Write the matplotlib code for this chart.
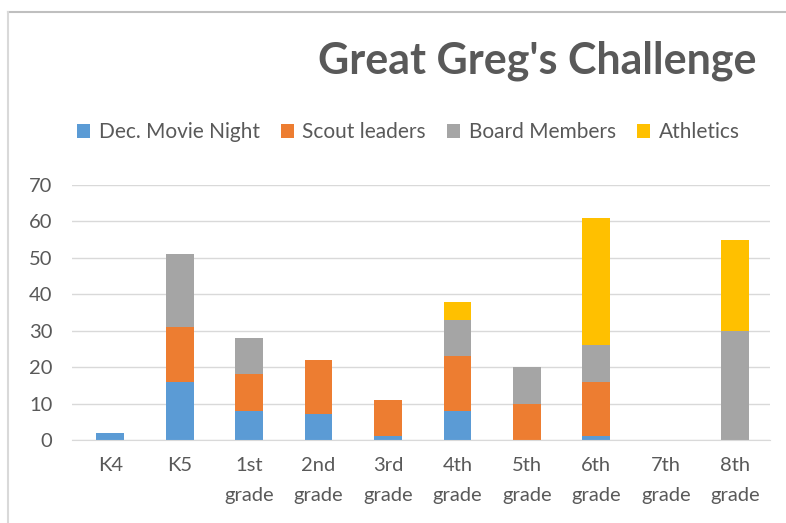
import matplotlib
matplotlib.use("Agg")
import matplotlib.pyplot as plt
from matplotlib.lines import Line2D
import numpy as np

categories = ["K4", "K5", "1st\ngrade", "2nd\ngrade", "3rd\ngrade", "4th\ngrade",
              "5th\ngrade", "6th\ngrade", "7th\ngrade", "8th\ngrade"]
movie_night = [2, 16, 8, 7, 1, 8, 0, 1, 0, 0]
scout_leaders = [0, 15, 10, 15, 10, 15, 10, 15, 0, 0]
board_members = [0, 20, 10, 0, 0, 10, 10, 10, 0, 30]
athletics = [0, 0, 0, 0, 0, 5, 0, 35, 0, 25]

series = [("Dec. Movie Night", movie_night, "#5B9BD5"),
          ("Scout leaders", scout_leaders, "#ED7D31"),
          ("Board Members", board_members, "#A5A5A5"),
          ("Athletics", athletics, "#FFC000")]

plt.rcParams['font.family'] = ['Lato', 'DejaVu Sans']
txt = "#595959"

fig = plt.figure(figsize=(7.86, 5.23), dpi=100)
ax = fig.add_axes([0.0916, 0.1587, 0.888, 0.4876])

x = np.arange(len(categories))
bottom = np.zeros(len(categories))
handles = []
for name, vals, col in series:
    v = np.array(vals, dtype=float)
    b = ax.bar(x, v, 0.4, bottom=bottom, color=col, label=name, zorder=3)
    bottom += v
    handles.append(b)

ax.set_ylim(0, 70)
ax.set_xlim(-0.55, 9.5)
ax.set_yticks(range(0, 71, 10))
ax.set_xticks(x)
ax.set_xticklabels(categories, fontsize=14.5, color=txt, linespacing=1.95)
ax.tick_params(axis='y', labelsize=14.5, colors=txt, length=0, pad=14)
ax.tick_params(axis='x', length=0, pad=12)
ax.yaxis.grid(True, color="#D9D9D9", linewidth=1, zorder=0)
for s in ["top", "right", "left"]:
    ax.spines[s].set_visible(False)
ax.spines["bottom"].set_color("#D9D9D9")
ax.spines["bottom"].set_zorder(4)

fig.text(0.683, 0.883, "Great Greg's Challenge", ha="center", va="center",
         fontsize=31, fontweight="bold", color=txt)

leg = fig.legend(handles=handles, loc="center left", bbox_to_anchor=(0.074, 0.747),
                 ncol=4, frameon=False, fontsize=15, handlelength=0.65, handleheight=0.65,
                 handletextpad=0.4, columnspacing=1.0, labelcolor=txt)

# chart border
fig.add_artist(Line2D([8/786, 1.0], [1 - 12/523, 1 - 12/523], color="#BFBFBF", lw=1.5))
fig.add_artist(Line2D([8/786, 8/786], [0, 1 - 12/523], color="#D9D9D9", lw=1.5))

fig.savefig("out.png", dpi=100)
